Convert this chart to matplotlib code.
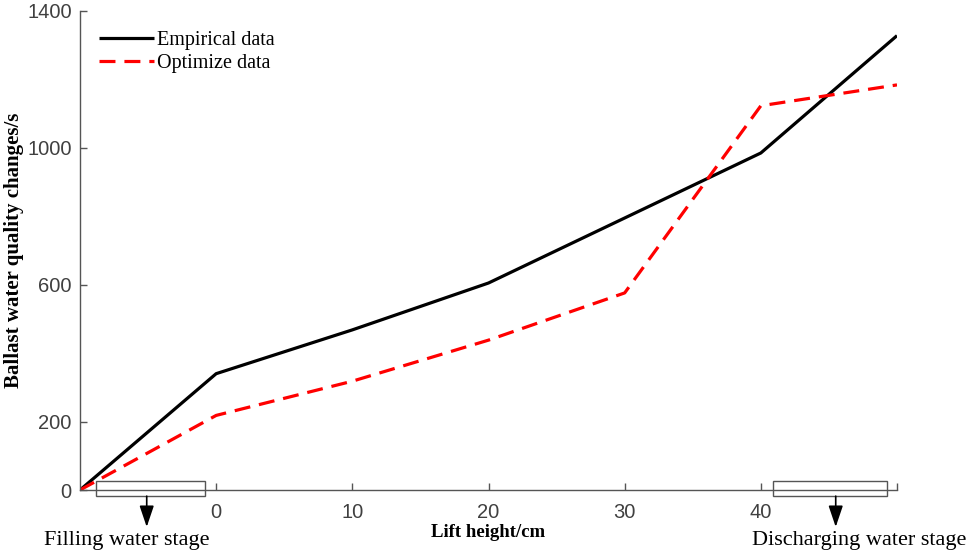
import numpy as np
import matplotlib
matplotlib.use("Agg")
import matplotlib.pyplot as plt
from matplotlib.patches import Rectangle

# data
lift_height = [-10, 0, 10, 20, 30, 40, 50]
empirical = [0, 340, 468, 605, 795, 985, 1328]
optimize = [0, 218, 318, 438, 576, 1123, 1184]

x_ticks = [0, 10, 20, 30, 40, 50]
x_tick_labels = ['0', '10', '20', '30', '40', '']
y_ticks = [0, 200, 600, 1000, 1400]

serif = ['Liberation Serif', 'DejaVu Serif']
sans = ['Liberation Sans', 'DejaVu Sans']
gray = '#555555'

fig = plt.figure(figsize=(9.68, 5.56), dpi=100)
ax = fig.add_axes([80 / 968, 1 - 490 / 556, 817 / 968, 479 / 556])

ax.plot(lift_height, empirical, color='black', linewidth=2.3, label='Empirical data',
        solid_capstyle='butt')
ax.plot(lift_height, optimize, color='red', linewidth=2.3, linestyle=(0, (5, 2.8)),
        label='Optimize data')

ax.set_xlim(-10, 50)
ax.set_ylim(0, 1400)
ax.set_xticks(x_ticks)
ax.set_xticklabels(x_tick_labels)
ax.set_yticks(y_ticks)

for s in ['top', 'right']:
    ax.spines[s].set_visible(False)
for s in ['left', 'bottom']:
    ax.spines[s].set_color(gray)
    ax.spines[s].set_linewidth(1.0)

ax.tick_params(direction='in', color=gray, labelcolor='#404040', length=5, width=1)
ax.tick_params(axis='x', pad=9)
ax.tick_params(axis='y', pad=6)
for lab in ax.get_xticklabels() + ax.get_yticklabels():
    lab.set_fontfamily(sans)
    lab.set_fontsize(14.5)

ax.set_xlabel('Lift height/cm', fontfamily=serif, fontweight='bold', fontsize=13.5)
ax.set_ylabel('Ballast water quality changes/s', fontfamily=serif, fontweight='bold',
              fontsize=15)
ax.xaxis.set_label_coords(0.5, -0.072)
ax.yaxis.set_label_coords(-0.068, 0.5)

leg = ax.legend(loc='upper left', bbox_to_anchor=(0.013, 0.976), frameon=False,
                prop={'family': serif, 'size': 14.5}, handlelength=2.75,
                handletextpad=0.15, labelspacing=0.2, borderaxespad=0)

# stage boxes below the axis
boxes = [(-8.85, -0.8), (40.9, 49.3)]
arrow_x = [-5.1, 45.5]
stage_text = ['Filling water stage', 'Discharging water stage']
text_x = [-6.55, 47.2]
for (x0, x1), ax_x, txt, tx in zip(boxes, arrow_x, stage_text, text_x):
    ax.add_patch(Rectangle((x0, -18), x1 - x0, 44, fill=False, edgecolor=gray,
                           linewidth=1.0, clip_on=False))
    ax.annotate('', xy=(ax_x, -108), xytext=(ax_x, -18),
                arrowprops=dict(arrowstyle='-|>,head_length=0.65,head_width=0.22',
                                color='black', lw=1.2,
                                mutation_scale=20, shrinkA=0, shrinkB=0),
                annotation_clip=False)
    ax.text(tx, -147, txt, ha='center', va='center', fontfamily=serif, fontsize=16,
            clip_on=False)

fig.savefig('out.png', dpi=100)
